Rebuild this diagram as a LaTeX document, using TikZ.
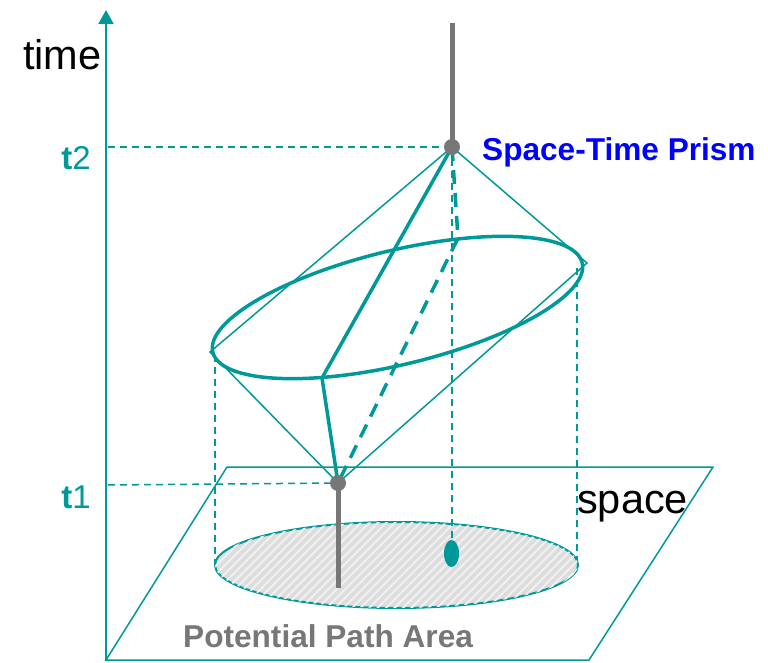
\documentclass[tikz,border=0pt]{standalone}
\usepackage{fontspec}
\setmainfont{Liberation Sans}
\usetikzlibrary{arrows.meta,patterns.meta}
\definecolor{prismteal}{HTML}{009999}
\definecolor{stemgray}{HTML}{777777}
\definecolor{labelblue}{HTML}{0000FF}
\definecolor{areagray}{HTML}{DDDDDD}

\begin{document}
\begin{tikzpicture}[
              x=1pt,
              y=-1pt,
              axis/.style={draw=prismteal, line width=2pt, -{Triangle[length=14pt, width=15pt]}},
              guide/.style={draw=prismteal, line width=1.5pt, dash pattern=on 7pt off 5pt},
              outline/.style={draw=prismteal, line width=1.5pt},
              rim/.style={draw=prismteal, line width=3.5pt},
              pathline/.style={draw=prismteal, line width=3.5pt, line join=round},
              pathdash/.style={draw=prismteal, line width=3.5pt, dash pattern=on 14pt off 9pt},
              area/.style={draw=prismteal, line width=2pt, fill=areagray, postaction={pattern={Lines[angle=45, distance=6pt, line width=2pt]}, pattern color=white!60!areagray}},
              stem/.style={draw=stemgray, line width=5pt},
              dot/.style={circle, fill=stemgray, minimum size=16pt, inner sep=0pt},
              axislabel/.style={font=\fontsize{41.5}{41.5}\selectfont, text=black, inner sep=0pt},
              ticklabel/.style={font=\fontsize{33}{33}\selectfont, text=prismteal, inner sep=0pt, anchor=base east}
            ]
            \useasboundingbox (0,0) rectangle (768,663);

            \coordinate (origin) at (106,660);
            \coordinate (axistop) at (106,10);
            \coordinate (planeBL) at (106,660);
            \coordinate (planeTL) at (227,467);
            \coordinate (planeTR) at (713,467);
            \coordinate (planeBR) at (589,660);
            \coordinate (areactr) at (396.5,565);
            \coordinate (prismctr) at (397.5,307.5);
            \coordinate (apex) at (452,147);
            \coordinate (base) at (338,483);
            \coordinate (prismL) at (210,352);
            \coordinate (prismR) at (587,263);
            \coordinate (rimlow) at (322,378);
            \coordinate (rimhigh) at (458,238);
            \coordinate (stemtop) at (452,23);
            \coordinate (stembot) at (338,588);
            \coordinate (target) at (451.5,553.5);

            \draw[outline] (planeBL) -- (planeTL) -- (planeTR) -- (planeBR) -- cycle;
            \draw[area] (areactr) ellipse [x radius=181.5pt, y radius=43pt];

            \draw[axis] (origin) -- (axistop);
            \draw[guide] (108,147) -- (apex);
            \draw[guide] (108,485) -- (base);
            \draw[guide] (215,355) -- (215,564);
            \draw[guide] (577,268) -- (577,560);
            \draw[guide] (apex) -- (452,541);

            \draw[outline] (apex) -- (prismR) -- (base) -- (prismL) -- cycle;
            \draw[rim, rotate around={13.6:(prismctr)}] (prismctr) ellipse [x radius=190pt, y radius=57pt];
            \draw[pathline] (apex) -- (rimlow) -- (base);
            \draw[pathdash] (apex) -- (rimhigh) -- (base);

            \draw[stem] (stemtop) -- (apex);
            \draw[stem] (base) -- (stembot);
            \node[dot] (apexdot) at (apex) {};
            \node[dot] (basedot) at (base) {};
            \fill[prismteal] (target) ellipse [x radius=7.5pt, y radius=13.5pt];

            \node[axislabel, anchor=base west] (timelabel) at (23,70) {time};
            \node[axislabel, anchor=base west] (spacelabel) at (577,513) {space};
            \node[ticklabel] (ttwo) at (91,170) {\textbf{t}2};
            \node[ticklabel] (tone) at (91,508) {\textbf{t}1};
            \node[font=\fontsize{31.6}{31.6}\selectfont\bfseries, text=labelblue, inner sep=0pt, anchor=base west] (prismlabel) at (482,161) {Space-Time Prism};
            \node[font=\fontsize{31.6}{31.6}\selectfont\bfseries, text=stemgray, inner sep=0pt, anchor=base west] (arealabel) at (183,647) {Potential Path Area};
            \end{tikzpicture}
\end{document}
